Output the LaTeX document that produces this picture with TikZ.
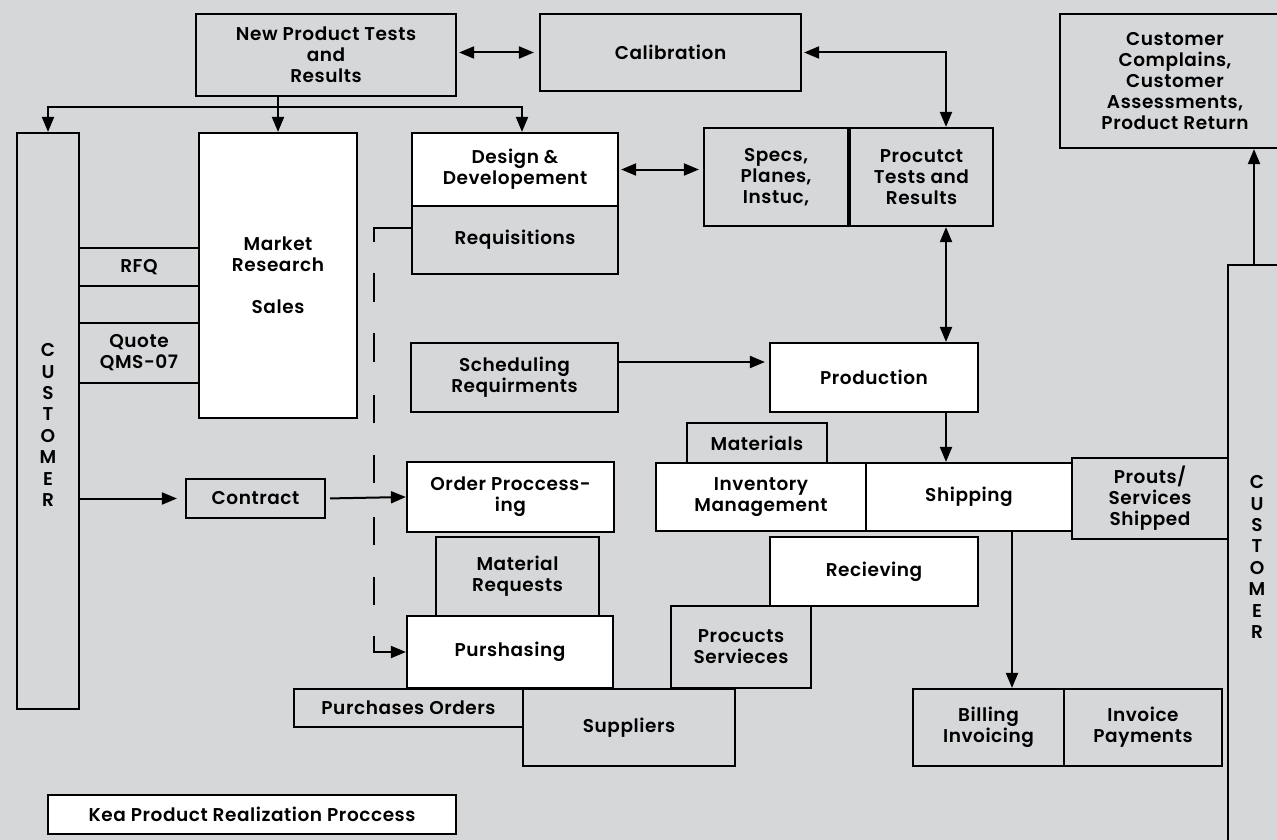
\documentclass[tikz,border=0pt]{standalone}
\usepackage{fontspec}
\setmainfont{Poppins}[UprightFont=* SemiBold, LetterSpace=3]
\usetikzlibrary{arrows.meta}
\definecolor{bg}{RGB}{214,215,217}
\tikzset{
  box/.style={draw=black, line width=2.2pt, fill=bg, align=center, inner sep=0pt,
    font=\fontsize{18.5}{21}\selectfont},
  wbox/.style={box, fill=white},
  conn/.style={line width=2pt, -{Triangle[length=15pt,width=12pt]}},
  biconn/.style={line width=2pt, {Triangle[length=15pt,width=12pt]}-{Triangle[length=15pt,width=12pt]}},
  vert/.style={align=center, inner sep=0pt, font=\fontsize{18.5}{21.4}\selectfont}
}
\begin{document}
\begin{tikzpicture}[x=1pt,y=-1pt]
\fill[bg] (0,0) rectangle (1277,840);
\useasboundingbox (0,0) rectangle (1277,840);
% boxes
\node[box, minimum width=260pt, minimum height=82pt] (npt) at (326,55) {New Product Tests\\and\\Results};
\node[box, minimum width=261pt, minimum height=77pt] (cal) at (670.5,52.5) {Calibration};
\node[box, minimum width=230pt, minimum height=134pt] (cc) at (1175,81) {Customer\\Complains,\\Customer\\Assessments,\\Product Return};
\node[box, minimum width=62pt, minimum height=576pt] (custL) at (48,421) {};
\node[vert] at (48,425) {C\\U\\S\\T\\O\\M\\E\\R};
\node[box, minimum width=120pt, minimum height=38pt] (rfq) at (139,267) {RFQ};
\node[box, minimum width=120pt, minimum height=60pt] (quote) at (139,353) {Quote\\QMS-07};
\node[wbox, minimum width=158pt, minimum height=285pt] (mr) at (278,275.5) {Market\\Research\\[21pt]Sales};
\node[wbox, minimum width=206pt, minimum height=73pt] (des) at (515,169.5) {Design \&\\Developement};
\node[box, minimum width=206pt, minimum height=68pt] (req) at (515,240) {Requisitions};
\node[box, minimum width=144pt, minimum height=98pt] (specs) at (776,177) {Specs,\\Planes,\\Instuc,};
\node[box, minimum width=143pt, minimum height=98pt] (ptr) at (921.5,177) {Procutct\\Tests and\\Results};
\node[box, minimum width=207pt, minimum height=69pt] (sched) at (514.5,377.5) {Scheduling\\Requirments};
\node[wbox, minimum width=208pt, minimum height=69pt] (prod) at (874,377.5) {Production};
\node[box, minimum width=140pt, minimum height=40pt] (mat) at (757,443) {Materials};
\node[wbox, minimum width=210pt, minimum height=68pt] (inv) at (761,497) {Inventory\\Management};
\node[wbox, minimum width=206pt, minimum height=68pt] (ship) at (969,497) {Shipping};
\node[box, minimum width=156pt, minimum height=81pt] (pss) at (1150,498.5) {Prouts/\\Services\\Shipped};
\node[box, minimum width=62pt, minimum height=585pt] (custR) at (1259,557.5) {};
\node[vert] at (1257,557) {C\\U\\S\\T\\O\\M\\E\\R};
\node[wbox, minimum width=208pt, minimum height=69pt] (rec) at (874,571.5) {Recieving};
\node[box, minimum width=140pt, minimum height=82pt] (pserv) at (741,647) {Procucts\\Servieces};
\node[box, minimum width=151pt, minimum height=77pt] (bill) at (988.5,727.5) {Billing\\Invoicing};
\node[box, minimum width=158pt, minimum height=77pt] (invp) at (1143,727.5) {Invoice\\Payments};
\node[wbox, minimum width=207pt, minimum height=70pt] (ord) at (510.5,497) {Order Proccess-\\ing};
\node[box, minimum width=163pt, minimum height=79pt] (mreq) at (517.5,576.5) {Material\\Requests};
\node[wbox, minimum width=206pt, minimum height=72pt] (pur) at (510,652) {Purshasing};
\node[box, minimum width=229pt, minimum height=38pt] (po) at (408.5,708) {Purchases Orders};
\node[box, minimum width=212pt, minimum height=77pt] (sup) at (629,727.5) {Suppliers};
\node[box, minimum width=139pt, minimum height=39pt] (con) at (255.5,498.5) {Contract};
\node[wbox, minimum width=408pt, minimum height=39pt] (kea) at (252,814.5) {Kea Product Realization Proccess};
% connectors
\draw[biconn, shorten <=2pt, shorten >=5pt] (npt.east |- cal.west) -- (cal.west);
\draw[biconn, shorten <=2pt] (cal.east) -| ([xshift=24.5pt]ptr.north);
\draw[biconn] ([xshift=24.5pt]ptr.south) -- ([xshift=72pt]prod.north);
\draw[conn] ([xshift=72pt]prod.south) -- ([xshift=-23pt]ship.north);
\draw[biconn, shorten <=2pt, shorten >=4pt] (des.east) -- (des.east -| specs.west);
\draw[line width=2pt] ([xshift=-48pt]npt.south) -- ([xshift=-48pt]npt.south |- 0,107) coordinate (bus);
\draw[conn] (bus) -- (mr.north);
\draw[conn] (bus) -| (custL.north);
\draw[conn] (bus) -| ([xshift=7pt]des.north);
\draw[conn, shorten >=8pt] (custL.east |- con.west) -- (con.west);
\draw[conn, shorten <=4pt] (con.east) -- (ord.west);
\draw[conn, shorten >=4pt] ([yshift=15.5pt]sched.east) -- ([yshift=15.5pt]prod.west);
\draw[conn, dash pattern=on 51.5pt off 31pt on 29pt off 31pt on 29pt off 33pt on 28pt off 32pt on 28pt off 34pt on 28pt off 32pt on 28pt off 31pt on 80pt off 1pt]
  ([yshift=12.5pt]req.west) -- ++(-37,0) |- (pur.west);
\draw[conn] ([xshift=43pt]ship.south) -- ([xshift=23.5pt]bill.north);
\draw[conn] ([xshift=-5pt]custR.north) -- ([xshift=79pt]cc.south);
\end{tikzpicture}
\end{document}
